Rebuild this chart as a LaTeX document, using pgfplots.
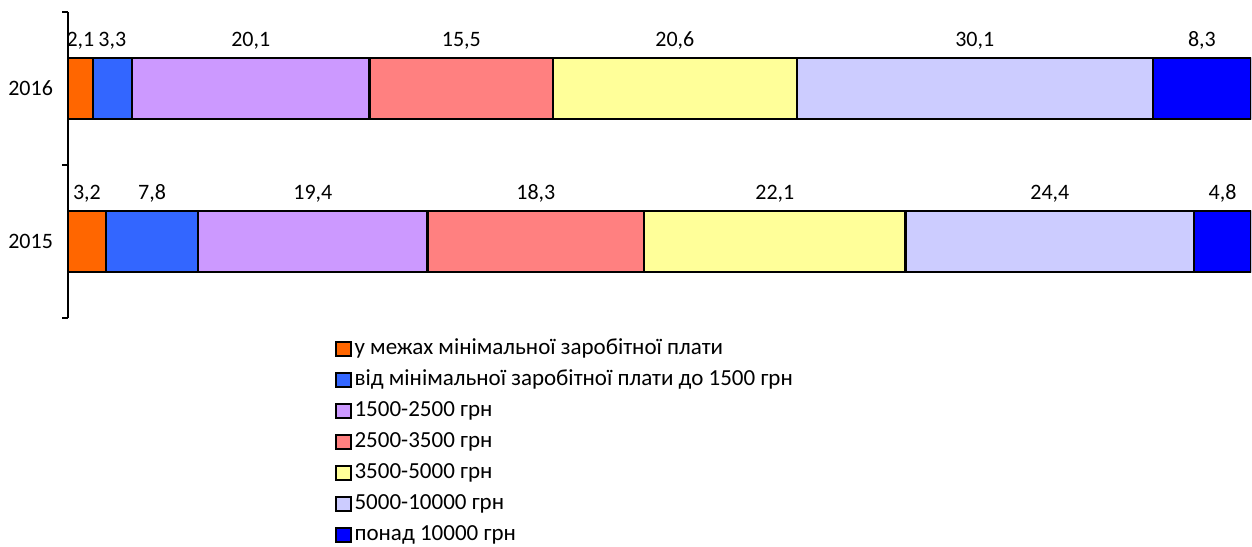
\documentclass[border=0pt]{standalone}
\usepackage{fontspec}
\setmainfont{Carlito}
\usepackage{pgfplots}
\pgfplotsset{compat=1.18}

\definecolor{c1}{HTML}{FF6600}
\definecolor{c2}{HTML}{3366FF}
\definecolor{c3}{HTML}{CC99FF}
\definecolor{c4}{HTML}{FF8080}
\definecolor{c5}{HTML}{FFFF99}
\definecolor{c6}{HTML}{CCCCFF}
\definecolor{c7}{HTML}{0000FF}

\begin{document}
\begin{tikzpicture}[font=\fontsize{11pt}{13pt}\selectfont]
\useasboundingbox (-34pt,-114pt) rectangle (592pt,159pt);
\begin{axis}[
  xbar stacked,
  scale only axis,
  width=591.5pt, height=153pt,
  xmin=0, xmax=100,
  ymin=-0.5, ymax=1.5,
  enlargelimits=false,
  bar width=0.4,
  axis x line=none,
  axis y line*=left,
  axis line style={-, line width=1pt},
  ytick={0,1},
  yticklabels={2015,2016},
  major tick length=0pt,
  extra y ticks={-0.5,0.5,1.5},
  extra y tick labels={},
  extra y tick style={major tick length=3pt, tick style={line width=1pt, black}, tickwidth=3pt},
  tick align=outside,
  yticklabel style={xshift=-4pt},
  /pgf/number format/assume math mode=true,
  every axis plot/.append style={draw=black, line width=1.2pt},
  point meta=rawx,
  nodes near coords={\pgfmathprintnumber[fixed,precision=1,zerofill,use comma]{\pgfplotspointmeta}},
  every node near coord/.append style={anchor=base, yshift=21pt, text=black},
  legend cell align=left,
  legend style={at={(0.225,0)}, anchor=north west, yshift=-10pt, draw=none, fill=none,
    inner sep=0pt, row sep=5pt, font=\fontsize{11.5pt}{13pt}\selectfont,
    nodes={inner xsep=1.5pt, inner ysep=0pt, text height=8pt, text depth=2.5pt}},
  legend image code/.code={\draw[#1, line width=1pt] (0pt,-3.6pt) rectangle (7.5pt,3.6pt);},
]
\addplot[fill=c1] coordinates {(2.1,1) (3.2,0)};
\addplot[fill=c2] coordinates {(3.3,1) (7.8,0)};
\addplot[fill=c3] coordinates {(20.1,1) (19.4,0)};
\addplot[fill=c4] coordinates {(15.5,1) (18.3,0)};
\addplot[fill=c5] coordinates {(20.6,1) (22.1,0)};
\addplot[fill=c6] coordinates {(30.1,1) (24.4,0)};
\addplot[fill=c7] coordinates {(8.3,1) (4.8,0)};
\legend{у межах мінімальної заробітної плати,
  від мінімальної заробітної плати до 1500 грн,
  1500-2500 грн, 2500-3500 грн, 3500-5000 грн, 5000-10000 грн, понад 10000 грн}
\end{axis}
\end{tikzpicture}
\end{document}
